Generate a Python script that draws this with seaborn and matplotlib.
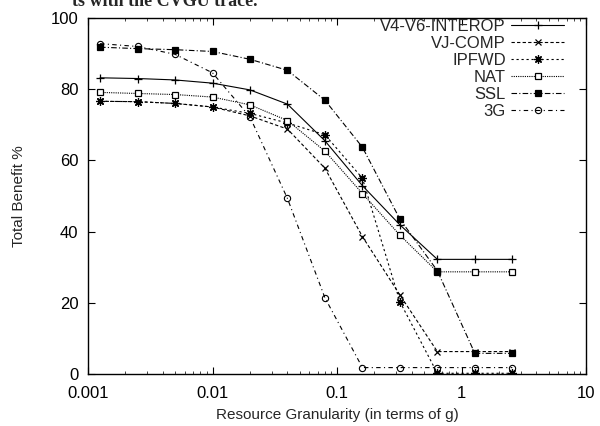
import numpy as np
import matplotlib
matplotlib.use("Agg")
import matplotlib.pyplot as plt
import seaborn as sns

sns.set_style("ticks")
plt.rcParams['font.family'] = ['Liberation Sans', 'DejaVu Sans']

granularity = [0.00125, 0.0025, 0.005, 0.01, 0.02, 0.04, 0.08, 0.16, 0.32, 0.64, 1.28, 2.56]
v4v6 = [83.2, 83.0, 82.6, 81.7, 79.8, 75.8, 65.5, 52.9, 41.9, 32.2, 32.2, 32.2]
vjcomp = [76.6, 76.5, 76.0, 75.0, 72.5, 68.8, 57.8, 38.6, 22.2, 6.3, 6.3, 6.3]
ipfwd = [76.6, 76.5, 76.0, 75.0, 73.2, 70.5, 67.2, 55.0, 20.3, 0.2, 0.2, 0.2]
nat = [79.1, 78.8, 78.5, 77.8, 75.6, 71.2, 62.6, 50.7, 39.0, 28.7, 28.7, 28.7]
ssl = [91.8, 91.4, 91.1, 90.6, 88.4, 85.3, 76.9, 63.7, 43.5, 29.0, 5.8, 5.8]
g3 = [92.8, 92.0, 89.8, 84.6, 72.2, 49.3, 21.4, 1.8, 1.8, 1.8, 1.8, 1.8]

series = [
    ("V4-V6-INTEROP", v4v6, dict(marker='+', ls='-', ms=6, mew=0.9, mfc='black')),
    ("VJ-COMP", vjcomp, dict(marker='x', ls=(0, (3, 2)), ms=5, mew=0.9, mfc='black')),
    ("IPFWD", ipfwd, dict(marker=(8, 2, 0), ls=(0, (2, 2.5)), ms=6, mew=0.9, mfc='black')),
    ("NAT", nat, dict(marker='s', ls=(0, (1, 1)), ms=5, mew=0.9, mfc='white')),
    ("SSL", ssl, dict(marker='s', ls=(0, (5, 2, 1, 2)), ms=5, mew=0.9, mfc='black')),
    ("3G", g3, dict(marker='o', ls=(0, (4, 3, 1, 3)), ms=4.5, mew=0.8, mfc='none')),
]

fig = plt.figure(figsize=(6, 4.26), dpi=100)
ax = fig.add_axes([88/600, 52/426, 498/600, 356/426])

for name, vals, st in series:
    sns.lineplot(x=granularity, y=vals, ax=ax, label=name, lw=0.8, color='black',
                 markeredgecolor='black', **st)

ax.set_xscale('log')
ax.set_xlim(0.001, 10)
ax.set_ylim(0, 100)
ax.set_yticks([0, 20, 40, 60, 80, 100])
ax.set_xticks([0.001, 0.01, 0.1, 1, 10])
ax.set_xticklabels(['0.001', '0.01', '0.1', '1', '10'])
ax.tick_params(axis='both', which='major', direction='in', length=5, width=0.8,
               top=True, right=True, labelsize=12, colors='black')
ax.tick_params(axis='x', which='major', pad=9)
ax.tick_params(axis='y', which='major', pad=7)
ax.tick_params(axis='x', which='minor', direction='in', length=2.5, width=0.6, top=True)
for s in ax.spines.values():
    s.set_visible(True)
    s.set_linewidth(1.0)
    s.set_color('black')

ax.set_xlabel("Resource Granularity (in terms of g)", fontsize=11, labelpad=5)
ax.set_ylabel("Total Benefit %", fontsize=11, labelpad=18)

leg = ax.legend(loc='upper right', bbox_to_anchor=(0.958, 1.0), frameon=False,
                markerfirst=False, fontsize=12, handlelength=3.2, handletextpad=0.3,
                labelspacing=0.12, borderpad=0.05, borderaxespad=0.0)

fig.text(257/600, 1 - 6/426, "ts with the CVGU trace.", ha='right', va='baseline',
         fontfamily='Liberation Serif', fontweight='bold', fontsize=13)

fig.savefig("out.png", dpi=100)
